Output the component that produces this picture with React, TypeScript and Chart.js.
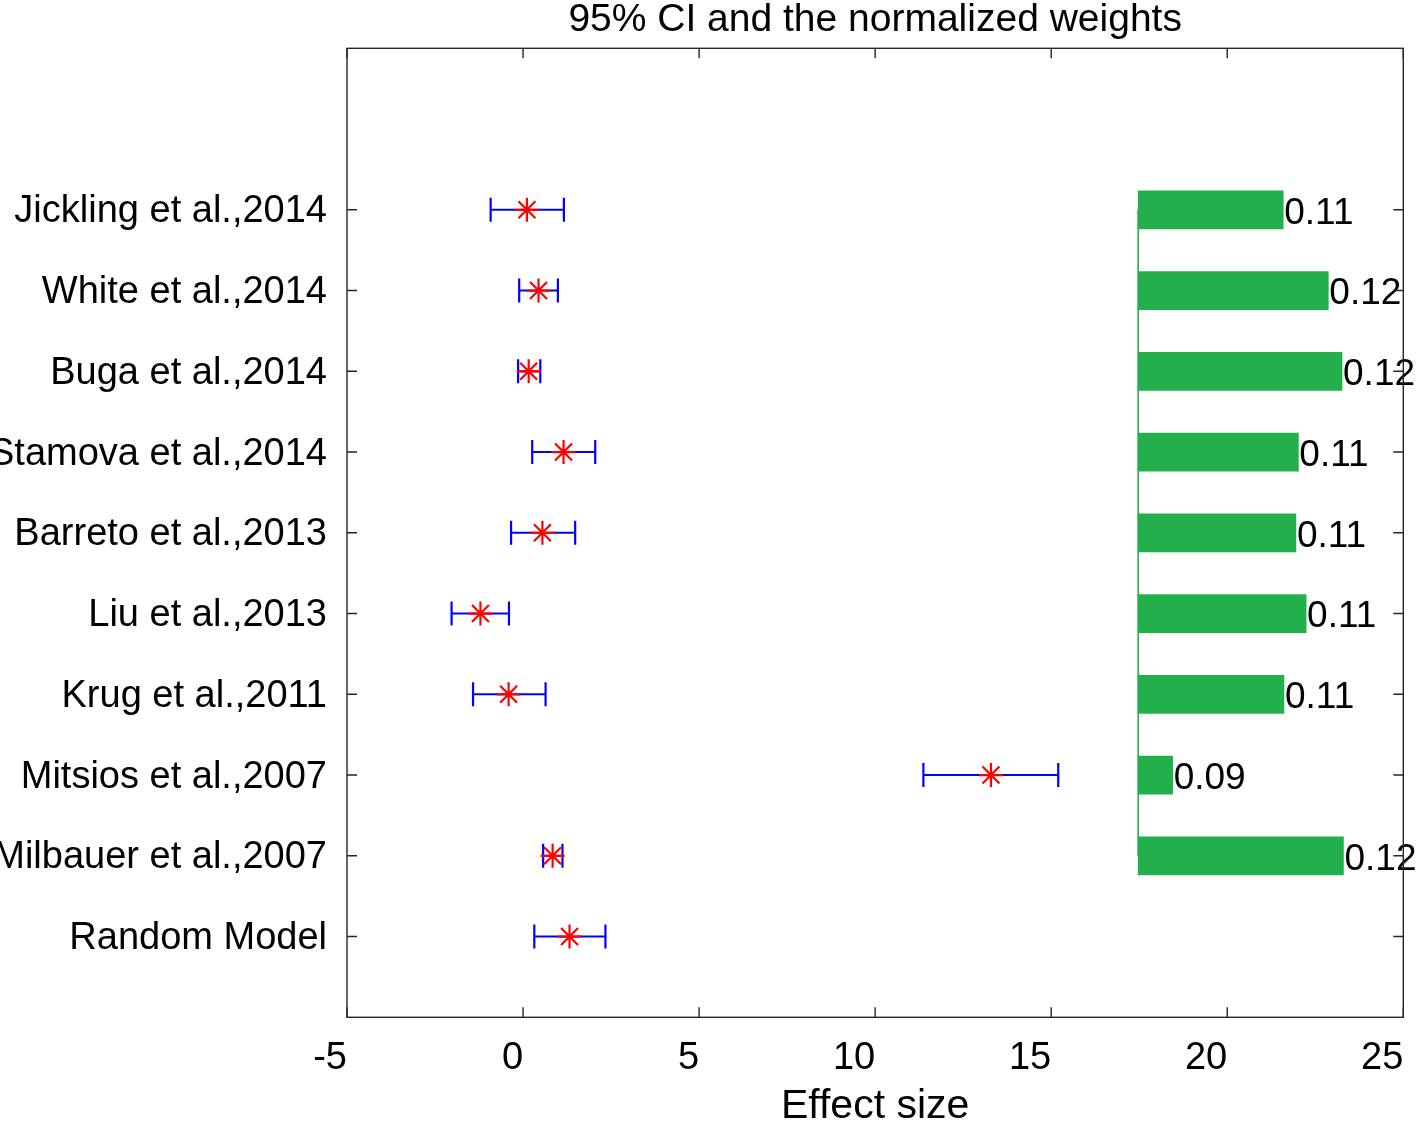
import React, { useEffect, useRef } from 'react';
import { Chart, registerables } from 'chart.js';

Chart.register(...registerables);

// ---- data ----
const categories = [
  'Jickling et al.,2014',
  'White et al.,2014',
  'Buga et al.,2014',
  'Stamova et al.,2014',
  'Barreto et al.,2013',
  'Liu et al.,2013',
  'Krug et al.,2011',
  'Mitsios et al.,2007',
  'Milbauer et al.,2007',
  'Random Model',
];
const rowPositions = [10, 9, 8, 7, 6, 5, 4, 3, 2, 1];
const effectSizes = [0.11, 0.44, 0.16, 1.15, 0.55, -1.21, -0.41, 13.29, 0.84, 1.32];
const ciLower = [-0.92, -0.11, -0.14, 0.26, -0.34, -2.03, -1.42, 11.37, 0.57, 0.32];
const ciUpper = [1.16, 0.99, 0.49, 2.05, 1.48, -0.4, 0.64, 15.2, 1.12, 2.34];
const weightLabels = ['0.11', '0.12', '0.12', '0.11', '0.11', '0.11', '0.11', '0.09', '0.12'];
const barStart = 17.47;
const barEnds = [21.59, 22.87, 23.26, 22.02, 21.95, 22.24, 21.61, 18.45, 23.3];
const xMin = -5;
const xMax = 25;
const xStep = 5;
const yMin = 0;
const yMax = 12;
const chartTitle = '95% CI and the normalized weights';
const xAxisTitle = 'Effect size';

const FONT = "'Liberation Sans', Arial, Helvetica, sans-serif";
const AXIS = '#262626';
const GREEN = '#23B04C';

export default function App() {
  const ref = useRef<HTMLCanvasElement | null>(null);

  useEffect(() => {
    if (!ref.current) return;

    const barLabelPlugin = {
      id: 'barLabels',
      afterDatasetsDraw(chart: any) {
        const meta = chart.getDatasetMeta(chart.data.datasets.length - 1);
        const ctx = chart.ctx;
        ctx.save();
        ctx.font = `37px ${FONT}`;
        ctx.fillStyle = '#000';
        ctx.textAlign = 'left';
        ctx.textBaseline = 'alphabetic';
        meta.data.forEach((el: any, i: number) => {
          ctx.fillText(weightLabels[i], el.x + 1, el.y + 13.8);
        });
        ctx.restore();
      },
    };

    const framePlugin = {
      id: 'frame',
      afterDraw(chart: any) {
        const { ctx, chartArea: a } = chart;
        const xs = chart.scales.x;
        const ys = chart.scales.y;
        ctx.save();
        ctx.strokeStyle = AXIS;
        ctx.lineWidth = 1.4;
        ctx.beginPath();
        xs.ticks.forEach((t: any) => {
          const px = xs.getPixelForValue(t.value);
          ctx.moveTo(px, a.bottom);
          ctx.lineTo(px, a.bottom - 10);
          ctx.moveTo(px, a.top);
          ctx.lineTo(px, a.top + 10);
        });
        ys.ticks.forEach((t: any) => {
          const py = ys.getPixelForValue(t.value);
          ctx.moveTo(a.left, py);
          ctx.lineTo(a.left + 10, py);
          ctx.moveTo(a.right, py);
          ctx.lineTo(a.right - 10, py);
        });
        ctx.stroke();
        ctx.strokeRect(a.left, a.top, a.right - a.left, a.bottom - a.top);
        ctx.restore();
      },
    };

    const starData = rowPositions.map((y, i) => ({ x: effectSizes[i], y }));
    const ciDatasets = rowPositions.map((y, i) => ({
      type: 'line' as const,
      data: [
        { x: ciLower[i], y },
        { x: ciUpper[i], y },
      ],
      borderColor: '#0000FF',
      borderWidth: 2,
      pointStyle: 'line',
      pointRotation: 90,
      pointRadius: 12,
      pointBorderColor: '#0000FF',
      pointBorderWidth: 2.2,
      pointHoverRadius: 12,
    }));
    const barRows = rowPositions.slice(0, barEnds.length);

    const chart = new Chart(ref.current, {
      type: 'scatter',
      data: {
        datasets: [
          {
            type: 'scatter',
            data: starData,
            pointStyle: 'star',
            pointRadius: 12,
            pointHoverRadius: 12,
            borderColor: '#FF0000',
            backgroundColor: '#FF0000',
            pointBorderWidth: 2.2,
          } as any,
          ...(ciDatasets as any[]),
          {
            type: 'line',
            data: [
              { x: barStart, y: barRows[barRows.length - 1] },
              { x: barStart, y: barRows[0] },
            ],
            borderColor: GREEN,
            borderWidth: 1.6,
            pointRadius: 0,
          } as any,
          {
            type: 'bar',
            indexAxis: 'y',
            data: barRows.map((y, i) => ({ y, x: [barStart, barEnds[i]] })),
            backgroundColor: GREEN,
            borderWidth: 0,
            barThickness: 38,
          } as any,
        ],
      },
      options: {
        animation: false,
        responsive: false,
        devicePixelRatio: 1,
        layout: { padding: { left: 0, right: 14.7, top: 0, bottom: 0 } },
        plugins: {
          legend: { display: false },
          tooltip: { enabled: false },
          title: { display: false },
        },
        scales: {
          x: {
            type: 'linear',
            min: xMin,
            max: xMax,
            offset: false,
            grid: { display: false, drawTicks: false },
            border: { display: false },
            ticks: {
              stepSize: xStep,
              align: 'end',
              padding: 18,
              color: '#000',
              font: { family: FONT, size: 38 },
            },
            title: {
              display: true,
              text: xAxisTitle,
              color: '#000',
              font: { family: FONT, size: 41, lineHeight: 1 },
              padding: { top: 0, bottom: 0 },
            },
            afterFit(scale: any) {
              scale.height = 109.7;
              scale.paddingLeft = 0;
              scale.paddingRight = 0;
            },
          },
          xTop: {
            type: 'linear',
            position: 'top',
            axis: 'x',
            min: xMin,
            max: xMax,
            offset: false,
            grid: { display: false, drawTicks: false },
            border: { display: false },
            ticks: { display: false },
            title: {
              display: true,
              text: chartTitle,
              color: '#000',
              font: { family: FONT, size: 39, lineHeight: 0.8 },
              padding: { top: 4.5, bottom: 0 },
            },
            afterFit(scale: any) {
              scale.height = 48.3;
              scale.paddingLeft = 0;
              scale.paddingRight = 0;
            },
          },
          y: {
            type: 'linear',
            min: yMin,
            max: yMax,
            offset: false,
            grid: { display: false, drawTicks: false },
            border: { display: false },
            afterBuildTicks(scale: any) {
              scale.ticks = rowPositions.map((v) => ({ value: v }));
            },
            ticks: {
              autoSkip: false,
              padding: 20,
              labelOffset: 2,
              color: '#000',
              font: { family: FONT, size: 38 },
              callback: (value: any) => {
                const idx = rowPositions.indexOf(Number(value));
                return idx >= 0 ? categories[idx] : '';
              },
            },
            afterFit(scale: any) {
              scale.width = 347;
            },
          },
        },
      } as any,
      plugins: [barLabelPlugin, framePlugin],
    });

    return () => chart.destroy();
  }, []);

  return (
    <canvas
      ref={ref}
      width={1418}
      height={1127}
      style={{ position: 'absolute', left: 0, top: 0, width: 1418, height: 1127, display: 'block', background: '#fff' }}
    />
  );
}
